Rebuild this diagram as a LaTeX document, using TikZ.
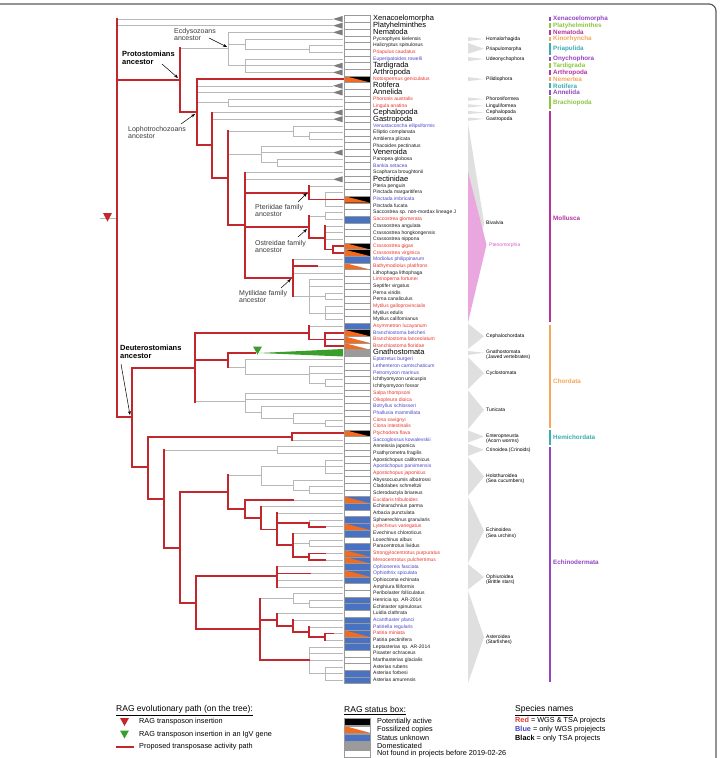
\documentclass[tikz,border=0pt]{standalone}
\usepackage{fontspec}
\setmainfont{Liberation Sans}
\usetikzlibrary{arrows.meta}
\definecolor{rag}{HTML}{C1272D}
\definecolor{tgray}{HTML}{B8B8B8}
\definecolor{ctrigray}{HTML}{7D7D7D}
\definecolor{wedgeg}{HTML}{DFDFDF}
\definecolor{pinkw}{HTML}{E9A6DF}
\definecolor{pinkt}{HTML}{D55FCB}
\definecolor{spR}{HTML}{E8352B}
\definecolor{spU}{HTML}{4B47C8}
\definecolor{spK}{HTML}{1A1A1A}
\definecolor{fos}{HTML}{F26B1F}
\definecolor{unk}{HTML}{4A72C2}
\definecolor{dom}{HTML}{9B9B9B}
\definecolor{igv}{HTML}{3A9E2C}
\definecolor{framec}{HTML}{5C5C5C}
\definecolor{boxgray}{HTML}{9A9A9A}
\definecolor{anngray}{HTML}{3A3A3A}
\definecolor{pv}{HTML}{9446C2}
\definecolor{pg}{HTML}{8DC63F}
\definecolor{pm}{HTML}{B4339E}
\definecolor{po}{HTML}{F5A65B}
\definecolor{pt}{HTML}{38AEB4}
\tikzset{
  gl/.style={draw=tgray, line width=0.55pt},
  rl/.style={draw=rag, line width=1.7pt, line cap=rect},
  spn/.style={anchor=west, inner sep=0pt, text height=3.6pt, text depth=1.1pt, font=\fontsize{5}{5}\selectfont},
  bign/.style={anchor=west, inner sep=0pt, text height=5.5pt, text depth=1.6pt, font=\fontsize{7.5}{7.5}\selectfont, text=black},
  cladel/.style={anchor=west, inner sep=0pt, font=\fontsize{5}{5.3}\selectfont, align=left, text=black},
  clade2/.style={anchor=north west, inner sep=0pt, font=\fontsize{5}{5.3}\selectfont, align=left, text=black},
  phyl/.style={anchor=west, inner sep=0pt, font=\bfseries\fontsize{6.3}{6.3}\selectfont},
  ann/.style={anchor=north west, inner sep=0pt, align=left, text=anngray, font=\fontsize{7}{7.3}\selectfont},
  annb/.style={anchor=north west, inner sep=0pt, align=left, text=black, font=\bfseries\fontsize{7.5}{7.8}\selectfont},
  leg/.style={anchor=west, inner sep=0pt, font=\fontsize{7.3}{7.3}\selectfont},
  legt/.style={anchor=west, inner sep=0pt, font=\fontsize{8.5}{8.5}\selectfont},
  ptr/.style={-{Stealth[length=4pt,width=3pt]}, line width=0.5pt, draw=black},
  boxb/.style={draw=boxgray, line width=0.4pt},
}
\newcommand\trGH[3]{\draw[gl] (#1,#3) -- (#2,#3);}
\newcommand\trGV[3]{\draw[gl] (#1,#2) -- (#1,#3);}
\newcommand\trRH[3]{\draw[rl] (#1,#3) -- (#2,#3);}
\newcommand\trRV[3]{\draw[rl] (#1,#2) -- (#1,#3);}
\newcommand\trTRI[1]{\fill[ctrigray] (333,#1) -- (342.5,#1-0.45) -- (342.5,#1+0.45) -- cycle;}
\newcommand\trPHY[6]{\draw[line width=1.4pt, draw=#1] (550,#2) -- (550,#3); \node[phyl, text=#1] (#5) at (553,#4) {#6};}
\newcommand\trWDG[5]{\fill[wedgeg] (468,#1) -- (484,#3) -- (468,#2) -- cycle; \node[cladel] (#4) at (486,#3) {#5};}
\newcommand\trWDGB[5]{\fill[wedgeg] (468,#1) -- (484,#3) -- (468,#2) -- cycle; \node[clade2] (#4) at (486,#3-0.42) {#5};}
\begin{document}
\begin{tikzpicture}[x=1pt,y=-1pt]
\useasboundingbox (0,0) rectangle (723,758);
\fill[white] (0,0) rectangle (723,758);
\draw[draw=framec, line width=1.2pt, rounded corners=7pt] (-20,4) -- (716,4) -- (716,800);

\begin{scope}[y=-6.68pt, yshift=-12.32pt]
% ---------- right side clade wedges ----------
\fill[wedgeg] (468,16.6) -- (484,31.5) -- (468,46.4) -- cycle;
\fill[pinkw] (468,23.9) -- (486.5,34.8) -- (468,46.4) -- cycle;
\node[cladel] (cBiv) at (486,31.5) {Bivalvia};
\node[cladel, text=pinkt] (cPte) at (489,34.8) {Pteriomorphia};
\trWDG{3.7}{4.3}{4}{cHom}{Homalorhagida}
\trWDG{4.6}{6.2}{5.45}{cPriap}{Priapulomorpha}
\trWDG{6.7}{7.3}{7}{cUdeo}{Udeonychophora}
\trWDG{9.7}{10.3}{10}{cPili}{Pilidiophora}
\trWDG{12.75}{13.25}{13}{cPhor}{Phoroniformea}
\trWDG{13.75}{14.25}{14}{cLing}{Linguliformea}
\trWDG{14.75}{15.25}{15}{cCeph}{Cephalopoda}
\trWDG{15.75}{16.25}{15.95}{cGast}{Gastropoda}
\trWDG{46.6}{50.4}{48.5}{cCephc}{Cephalochordata}
\trWDGB{50.7}{51.3}{50.95}{cGnat}{Gnathostomata\\(Jawed vertebrates)}
\trWDG{51.6}{56.4}{54}{cCycl}{Cyclostomata}
\trWDG{56.6}{62.4}{59.5}{cTuni}{Tunicata}
\trWDGB{62.6}{64.4}{63.5}{cEnte}{Enteropneusta\\(Acorn worms)}
\trWDG{64.6}{66.4}{65.5}{cCrin}{Crinoidea (Crinoids)}
\trWDGB{66.6}{72.4}{69.5}{cHolo}{Holothuroidea\\(Sea cucumbers)}
\trWDGB{72.6}{82.4}{77.6}{cEchi}{Echinoidea\\(Sea urchins)}
\trWDGB{82.6}{86.4}{84.55}{cOphi}{Ophiuroidea\\(Brittle stars)}
\trWDGB{86.6}{100.4}{93.55}{cAste}{Asteroidea\\(Starfishes)}

% ---------- phylum bars ----------
\trPHY{pv}{0.65}{1.35}{1}{phXen}{Xenacoelomorpha}
\trPHY{pg}{1.65}{2.35}{2}{phPla}{Platyhelminthes}
\trPHY{pm}{2.65}{3.35}{3}{phNem}{Nematoda}
\trPHY{po}{3.65}{4.35}{4}{phKin}{Kinorhyncha}
\trPHY{pt}{4.6}{6.4}{5.5}{phPri}{Priapulida}
\trPHY{pv}{6.65}{7.35}{7}{phOny}{Onychophora}
\trPHY{pg}{7.65}{8.35}{8}{phTar}{Tardigrada}
\trPHY{pm}{8.65}{9.35}{9}{phArt}{Arthropoda}
\trPHY{po}{9.65}{10.35}{10}{phNer}{Nemertea}
\trPHY{pt}{10.65}{11.35}{11}{phRot}{Rotifera}
\trPHY{pv}{11.65}{12.35}{12}{phAnn}{Annelida}
\trPHY{pg}{12.6}{14.4}{13.5}{phBra}{Brachiopoda}
\trPHY{pm}{14.7}{46.3}{30.9}{phMol}{Mollusca}
\trPHY{po}{46.75}{62.3}{55.2}{phCho}{Chordata}
\trPHY{pt}{62.6}{64.7}{63.6}{phHem}{Hemichordata}
\trPHY{pv}{65}{100.3}{82.3}{phEch}{Echinodermata}

% ---------- gray tree ----------
\draw[gl] (100,30.8) -- (116.7,30.8);
\trGH{116.7}{333}{1} \trGH{116.7}{333}{2}
\trGH{180}{228}{5.34} \trGV{228}{3}{8}
\trGH{228}{333}{3}
\trGH{228}{245}{4.75} \trGV{245}{4}{5.5} \trGH{245}{343}{4}
\trGH{245}{309}{5.5} \trGV{309}{5}{6} \trGH{309}{343}{5} \trGH{309}{343}{6}
\trGV{245}{7}{9} \trGH{228}{245}{8} \trGH{245}{343}{7} \trGH{245}{333}{8} \trGH{245}{333}{9}
\trGH{197}{333}{11} \trGH{197}{333}{12}
\trGH{197}{228}{13.5} \trGV{228}{13}{14} \trGH{228}{343}{13} \trGH{228}{343}{14}
\trGH{212}{333}{15} \trGH{212}{333}{16}
\trGH{228}{293}{17.75} \trGV{293}{17}{18.5} \trGH{293}{343}{17}
\trGH{293}{309}{18.5} \trGV{309}{18}{19} \trGH{309}{343}{18} \trGH{309}{343}{19}
\trGH{228}{261}{21.25} \trGV{261}{20}{22.5} \trGH{261}{343}{20} \trGH{261}{333}{21}
\trGH{261}{277}{22.5} \trGV{277}{22}{23} \trGH{277}{343}{22} \trGH{277}{343}{23}
\trGH{245}{343}{24} \trGH{245}{333}{25}
\trGH{309}{343}{26} \trGV{325}{27}{29} \trGH{325}{343}{27} \trGH{325}{343}{29}
\trGH{309}{325}{30.5} \trGV{325}{30}{31} \trGH{325}{343}{30} \trGH{325}{343}{31}
\trGH{325}{343}{32} \trGH{325}{343}{33} \trGH{325}{343}{34}
\trGH{293}{343}{37} \trGH{317}{343}{38} \trGH{293}{343}{39}
\trGH{293}{309}{42.5} \trGV{309}{40}{45} \trGH{309}{343}{40} \trGH{309}{343}{41}
\trGH{309}{325}{42.5} \trGV{325}{42}{43} \trGH{325}{343}{42} \trGH{325}{343}{43}
\trGH{309}{325}{45} \trGV{325}{44}{46} \trGH{325}{343}{44} \trGH{325}{343}{45} \trGH{325}{343}{46}
\trGH{309}{343}{47}
\trGH{228}{245}{53.1} \trGV{245}{52}{54.25} \trGH{245}{343}{52}
\trGH{245}{309}{54.25} \trGV{309}{53}{55.5} \trGH{309}{343}{53} \trGH{309}{343}{54}
\trGH{309}{325}{55.5} \trGV{325}{55}{56} \trGH{325}{343}{55} \trGH{325}{343}{56}
\trGH{195}{245}{58.29} \trGV{245}{57}{59.9} \trGH{245}{343}{57} \trGH{245}{343}{58}
\trGH{245}{261}{59.9} \trGV{261}{59}{60.75} \trGH{261}{343}{59}
\trGH{261}{293}{60.75} \trGV{293}{60}{61.5} \trGH{293}{343}{60}
\trGH{293}{325}{61.5} \trGV{325}{61}{62} \trGH{325}{343}{61} \trGH{325}{343}{62}
\trGH{292}{343}{64}
\trGH{164}{277}{65.5} \trGV{277}{65}{66} \trGH{277}{343}{65} \trGH{277}{343}{66}
\trGH{228}{261}{69.3} \trGV{261}{68}{70.75}
\trGH{261}{325}{68} \trGV{325}{67}{69} \trGH{325}{343}{67} \trGH{325}{343}{68} \trGH{325}{343}{69}
\trGH{261}{293}{70.75} \trGV{293}{70}{71.5} \trGH{293}{343}{70}
\trGH{293}{309}{71.5} \trGV{309}{71}{72} \trGH{309}{343}{71} \trGH{309}{343}{72}
\trGH{293}{343}{73} \trGH{261}{343}{74} \trGH{277}{343}{75}
\trGV{309}{76}{77} \trGH{309}{343}{76} \trGH{325}{343}{77}
\trGH{293}{343}{78} \trGH{293}{309}{79.5} \trGV{309}{79}{80} \trGH{309}{343}{79} \trGH{309}{343}{80}
\trGH{325}{343}{81} \trGH{325}{343}{82}
\trGH{277}{343}{83} \trGH{310}{343}{84} \trGH{277}{343}{85} \trGH{277}{343}{86}
\trGH{260}{293}{87.75} \trGV{293}{87}{88.5} \trGH{293}{343}{87}
\trGH{293}{309}{88.5} \trGV{309}{88}{89} \trGH{309}{343}{88} \trGH{309}{343}{89}
\trGH{277}{343}{90} \trGH{293}{343}{91} \trGH{309}{343}{92} \trGH{333}{343}{93} \trGH{325}{343}{94}
\trGV{309}{95}{99} \trGH{309}{343}{95} \trGH{309}{343}{96} \trGH{309}{343}{97}
\trGH{309}{325}{99} \trGV{325}{98}{100} \trGH{325}{343}{98} \trGH{325}{343}{99} \trGH{325}{343}{100}

% collapsed clade triangles
\foreach \r in {1,2,3,8,9,11,12,15,16,21,25} {\trTRI{\r}}

% ---------- red paths ----------
\trRV{116.7}{1}{60.6}
\trRH{116.7}{180}{10.13} \trRV{180}{5.34}{14.92}
\trRH{180}{197}{14.92} \trRV{197}{10}{19.86} \trRH{197}{343}{10}
\trRH{197}{212}{19.86} \trRV{212}{15}{24.8} \trRH{212}{228}{24.8}
\trRV{228}{17.75}{31.84} \trRH{228}{245}{31.84}
\trRV{245}{24}{39.77}
\trRH{245}{309}{27} \trRV{309}{26}{28} \trRH{309}{343}{28}
\trRH{245}{309}{32.1} \trRV{309}{30.5}{33.75} \trRH{309}{325}{33.75}
\trRV{325}{32}{35.5} \trRH{325}{333}{35.5} \trRV{333}{35}{36}
\trRH{333}{343}{35} \trRH{333}{343}{36}
\trRH{245}{293}{39.77} \trRV{293}{37}{42.5} \trRH{293}{317}{38}
\trRH{116.7}{131.7}{60.6} \trRV{131.7}{53.2}{68.07}
\trRH{131.7}{195}{53.2} \trRV{195}{48}{58.29}
\trRH{195}{309}{48} \trRV{309}{47}{49} \trRH{309}{325}{49} \trRV{325}{48}{50}
\trRH{325}{343}{48} \trRH{325}{343}{49} \trRH{325}{343}{50}
\trRH{195}{228}{52.05} \trRV{228}{51}{53.1} \trRH{228}{255}{51}
\trRH{131.7}{148}{68.07} \trRV{148}{63.53}{72.9}
\trRH{148}{292}{63.53} \trRV{292}{63}{64} \trRH{292}{343}{63}
\trRH{148}{164}{72.9} \trRV{164}{65.5}{80.24}
\trRH{164}{180}{80.24} \trRV{180}{71.8}{88.47}
\trRH{180}{228}{71.8} \trRV{228}{69.3}{74.4}
\trRH{228}{245}{74.4} \trRV{245}{73}{75.7} \trRH{245}{293}{73}
\trRH{245}{261}{75.7} \trRV{261}{74}{77.4}
\trRH{261}{277}{77.4} \trRV{277}{75}{79.75}
\trRH{277}{309}{76.5} \trRV{309}{76.5}{77} \trRH{309}{325}{77}
\trRH{277}{293}{79.75} \trRV{293}{78}{81.5} \trRH{293}{309}{81.5} \trRV{309}{81}{82}
\trRH{309}{325}{81} \trRH{309}{325}{82}
\trRH{180}{196}{88.47} \trRV{196}{84.4}{92.36}
\trRH{196}{277}{84.4} \trRV{277}{83}{86} \trRH{277}{310}{84}
\trRH{196}{260}{92.36} \trRV{260}{87.75}{97}
\trRH{260}{277}{90.94} \trRV{277}{90}{91.875} \trRH{277}{293}{91.875}
\trRV{293}{91}{92.75} \trRH{293}{309}{92.75} \trRV{309}{92}{93.5}
\trRH{309}{325}{93.5} \trRV{325}{93}{94} \trRH{325}{333}{93}
\trRH{260}{309}{97}

% ---------- status boxes ----------
\foreach \r in {1,...,100} {\fill[white] (344,\r-0.5) rectangle (370,\r+0.5);}
\foreach \r in {31,37,47,74,76,78,80,83,85,88,89,91,92,94,95,99,100} {\fill[unk] (344,\r-0.5) rectangle (370,\r+0.5);}
\foreach \r in {73,77,81,82,84,93} {\fill[unk] (344,\r-0.5) rectangle (370,\r+0.5);
  \fill[fos] (344,\r-0.5) -- (344,\r+0.5) -- (370,\r+0.5) -- cycle;}
\foreach \r in {10,28,35,36,48,63} {\fill[black] (344,\r-0.5) rectangle (370,\r+0.5);
  \fill[fos] (344,\r-0.5) -- (344,\r+0.5) -- (370,\r+0.5) -- cycle;}
\foreach \r in {38,49,50} {\fill[fos] (344,\r-0.5) -- (344,\r+0.5) -- (370,\r+0.5) -- cycle;}
\fill[dom] (344,50.5) rectangle (370,51.5);
\foreach \r in {1,...,100} {\draw[boxb] (344,\r-0.5) rectangle (370,\r+0.5);}

% ---------- species names ----------
\foreach \r/\n in {1/Xenacoelomorpha,2/Platyhelminthes,3/Nematoda,8/Tardigrada,9/Arthropoda,
  11/Rotifera,12/Annelida,15/Cephalopoda,16/Gastropoda,21/Veneroida,25/Pectinidae,51/Gnathostomata}
  {\node[bign] (sp\r) at (373,\r) {\n};}
\foreach \r/\n/\c in {4/Pycnophyes kielensis/K,5/Halicryptus spinulosus/K,6/Priapulus caudatus/R,
  7/Euperipatoides rowelli/U,10/Notospermus geniculatus/R,13/Phoronis australis/R,14/Lingula anatina/R,
  17/Venustaconcha ellipsiformis/U,18/Elliptio complanata/K,19/Amblema plicata/K,20/Phacoides pectinatus/K,
  22/Panopea globosa/K,23/Bankia setacea/U,24/Scapharca broughtonii/K,26/Pteria penguin/K,
  27/Pinctada margaritifera/K,28/Pinctada imbricata/U,29/Pinctada fucata/K,
  30/Saccostrea sp. non-mordax lineage J/K,31/Saccostrea glomerata/R,32/Crassostrea angulata/K,
  33/Crassostrea hongkongensis/K,34/Crassostrea nippona/K,35/Crassostrea gigas/R,36/Crassostrea virginica/R,
  37/Modiolus philippinarum/U,38/Bathymodiolus platifrons/R,39/Lithophaga lithophaga/K,
  40/Limnoperna fortunei/R,41/Septifer virgatus/K,42/Perna viridis/K,43/Perna canaliculus/K,
  44/Mytilus galloprovincialis/R,45/Mytilus edulis/K,46/Mytilus californianus/K,
  47/Asymmetron lucayanum/R,48/Branchiostoma belcheri/U,49/Branchiostoma lanceolatum/R,
  50/Branchiostoma floridae/R,52/Eptatretus burgeri/U,53/Lethenteron camtschaticum/U,
  54/Petromyzon marinus/U,55/Ichthyomyzon unicuspis/K,56/Ichthyomyzon fossor/K,57/Salpa thompsoni/R,
  58/Oikopleura dioica/R,59/Botryllus schlosseri/U,60/Phallusia mammillata/U,61/Ciona savignyi/R,
  62/Ciona intestinalis/R,63/Ptychodera flava/R,64/Saccoglossus kowalevskii/U,65/Anneissia japonica/K,
  66/Psathyrometra fragilis/K,67/Apostichopus californicus/K,68/Apostichopus parvimensis/U,
  69/Apostichopus japonicus/R,70/Abyssocucumis albatrossi/K,71/Cladolabes schmeltzii/K,
  72/Sclerodactyla briareus/K,73/Eucidaris tribuloides/R,74/Echinarachnius parma/K,
  75/Arbacia punctulata/K,76/Sphaerechinus granularis/K,77/Lytechinus variegatus/R,
  78/Evechinus chloroticus/K,79/Loxechinus albus/K,80/Paracentrotus lividus/K,
  81/Strongylocentrotus purpuratus/R,82/Mesocentrotus pulcherrimus/R,83/Ophionereis fasciata/U,
  84/Ophiothrix spiculata/U,85/Ophiocoma echinata/K,86/Amphiura filiformis/K,
  87/Peribolaster folliculatus/K,88/Henricia sp. AR-2014/K,89/Echinaster spinulosus/K,
  90/Luidia clathrata/K,91/Acanthaster planci/U,92/Patiriella regularis/U,93/Patiria miniata/R,
  94/Patiria pectinifera/K,95/Leptasterias sp. AR-2014/K,96/Pisaster ochraceus/K,
  97/Marthasterias glacialis/K,98/Asterias rubens/K,99/Asterias forbesi/K,100/Asterias amurensis/K}
  {\node[spn, text=sp\c] (sp\r) at (373,\r) {\n};}
\end{scope}

% ---------- insertions ----------
\fill[rag] (103,213) -- (112,213) -- (107.5,221.5) -- cycle;
\fill[igv] (253,346.5) -- (262,346.5) -- (257.5,354.5) -- cycle;
\fill[igv] (259,353) -- (343,349) -- (343,356.5) -- cycle;

% ---------- annotations ----------
\node[ann] (aEcd) at (174,28.4) {Ecdysozoans\\ancestor};
\node[annb] (aPro) at (122,51) {Protostomians\\ancestor};
\node[ann] (aLop) at (128,126.4) {Lophotrochozoans\\ancestor};
\node[ann] (aPte) at (255,204.4) {Pteriidae family\\ancestor};
\node[ann] (aOst) at (255,240.4) {Ostreidae family\\ancestor};
\node[ann] (aMyt) at (239,290.4) {Mytilidae family\\ancestor};
\node[annb] (aDeu) at (120,345) {Deuterostomians\\ancestor};
\coordinate (eS) at (209,38); \coordinate (eT) at (227,47);
\coordinate (pS) at (162,64); \coordinate (pT) at (178,78);
\coordinate (lS) at (181,124); \coordinate (lT) at (195,114);
\coordinate (tS) at (298,202); \coordinate (tT) at (307,193);
\coordinate (oS) at (298,237); \coordinate (oT) at (307,229);
\coordinate (mS) at (281,288); \coordinate (mT) at (291,279);
\coordinate (dS) at (121,364); \coordinate (dT) at (130,415);
\draw[ptr] (eS) -- (eT);
\draw[ptr] (pS) -- (pT);
\draw[ptr] (lS) -- (lT);
\draw[ptr] (tS) -- (tT);
\draw[ptr] (oS) -- (oT);
\draw[ptr] (mS) -- (mT);
\draw[ptr] (dS) -- (dT);

% ---------- legend ----------
\node[legt] (lgA) at (116,710.7) {\underline{RAG evolutionary path (on the tree):}};
\fill[rag] (120,718) -- (129,718) -- (124.5,726) -- cycle;
\node[leg] (lgA1) at (139,721.7) {RAG transposon insertion};
\fill[igv] (120,730.5) -- (129,730.5) -- (124.5,738.5) -- cycle;
\node[leg] (lgA2) at (139,734.3) {RAG transposon insertion in an IgV gene};
\draw[rag, line width=2pt] (116,746.7) -- (134,746.7);
\node[leg] (lgA3) at (139,746.7) {Proposed transposase activity path};

\node[legt] (lgB) at (344,710.7) {\underline{RAG status box:}};
\fill[black] (344,717.7) rectangle (370,724.7);
\fill[white] (344,725.8) rectangle (370,732.8);
\fill[fos] (344,725.8) -- (344,732.8) -- (370,732.8) -- cycle;
\fill[unk] (344,733.9) rectangle (370,740.9);
\fill[dom] (344,742.0) rectangle (370,749.0);
\fill[white] (344,750.0) rectangle (370,757.0);
\foreach \a in {717.7,725.8,733.9,742.0,750.0} {\draw[boxb] (344,\a) rectangle (370,\a+7);}
\node[leg] (lgB1) at (377,721.2) {Potentially active};
\node[leg] (lgB2) at (377,729.3) {Fossilized copies};
\node[leg] (lgB3) at (377,737.4) {Status unknown};
\node[leg] (lgB4) at (377,745.5) {Domesticated};
\node[leg] (lgB5) at (377,753.5) {Not found in projects before 2019-02-26};

\node[legt] (lgC) at (515,710.7) {\underline{Species names}};
\node[leg] (lgC1) at (515,720.7) {\textcolor{spR}{\textbf{Red}} = WGS \& TSA projects};
\node[leg] (lgC2) at (515,729.3) {\textcolor{spU}{\textbf{Blue}} = only WGS projejects};
\node[leg] (lgC3) at (515,738.3) {\textbf{Black} = only TSA projects};
\end{tikzpicture}
\end{document}
